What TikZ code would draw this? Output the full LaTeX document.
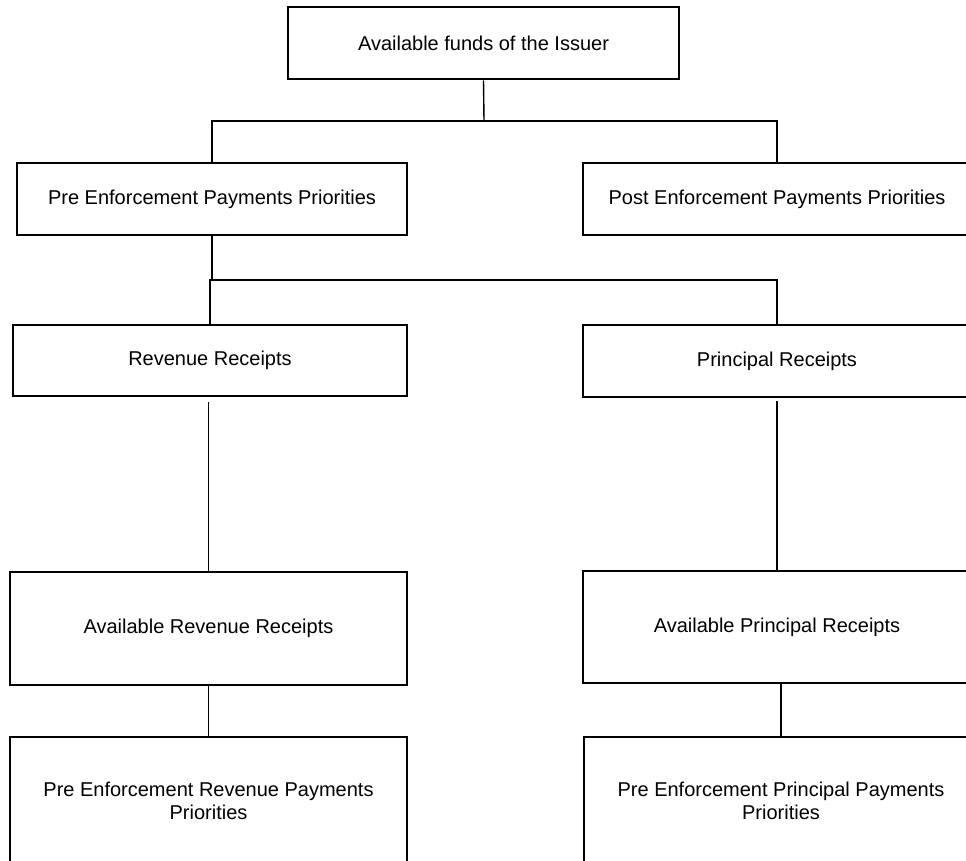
\documentclass[tikz,border=0pt]{standalone}
\usepackage{fontspec}
\setmainfont{Liberation Sans}
\begin{document}
\begin{tikzpicture}[x=1pt,y=-1pt,
  box/.style={draw, line width=2.8pt, inner sep=0pt,
    font=\fontsize{20}{22.5}\selectfont, align=center},
  link/.style={line width=1.4pt}]
\useasboundingbox (0,0) rectangle (966,861);
\clip (0,0) rectangle (966,861);

% boxes
\node[box, minimum width=391pt, minimum height=72pt] (funds) at (483.5,43) {Available funds of the Issuer};
\node[box, minimum width=390pt, minimum height=72pt] (pre) at (212,199) {Pre Enforcement Payments Priorities};
\node[box, minimum width=388pt, minimum height=72pt] (post) at (777,199) {Post Enforcement Payments Priorities};
\node[box, minimum width=394pt, minimum height=71pt] (rev) at (210,360.5) {Revenue Receipts};
\node[box, minimum width=388pt, minimum height=72pt] (prin) at (777,361) {Principal Receipts};
\node[box, minimum width=397pt, minimum height=113pt] (avrev) at (208.5,628.5) {Available Revenue Receipts};
\node[box, minimum width=388pt, minimum height=112pt] (avprin) at (777,627) {Available Principal Receipts};
\node[box, minimum width=397pt, minimum height=128pt] (prerev) at (208.5,801) {Pre Enforcement Revenue Payments\\Priorities};
\node[box, minimum width=394pt, minimum height=128pt] (preprin) at (781,801) {Pre Enforcement Principal Payments\\Priorities};

% connectors
\coordinate (bus1) at (484,121);
\coordinate (bus2) at (500,280);
\draw[link] (funds.south) -- (bus1);
\draw[link] (pre.north) |- (bus1) -| (post.north);
\draw[link] (pre.south) -- (pre.south |- bus2);
\draw[link] (rev.north) -- (rev.north |- bus2) -| (prin.north);
\draw[link, shorten >=5pt] (avrev.north) -- (avrev.north |- rev.south);
\draw[link, shorten <=3pt] (prin.south) -- (avprin.north);
\draw[link] (avrev.south) -- (prerev.north);
\draw[link] (preprin.north) -- (preprin.north |- avprin.south);
\end{tikzpicture}
\end{document}
